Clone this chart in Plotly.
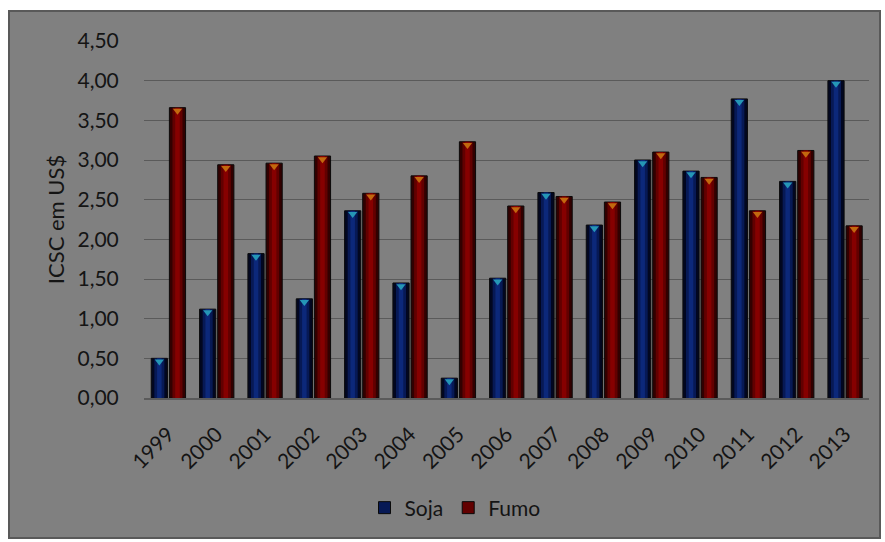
import plotly.graph_objects as go

# ICSC per year, in US$
years = ["1999", "2000", "2001", "2002", "2003", "2004", "2005", "2006",
         "2007", "2008", "2009", "2010", "2011", "2012", "2013"]
soja = [0.50, 1.12, 1.82, 1.25, 2.36, 1.45, 0.25, 1.51,
        2.59, 2.18, 3.00, 2.86, 3.77, 2.73, 4.00]
fumo = [3.66, 2.94, 2.96, 3.05, 2.58, 2.80, 3.23, 2.42,
        2.54, 2.47, 3.10, 2.78, 2.36, 3.12, 2.17]
y_ticks = [0.0, 0.5, 1.0, 1.5, 2.0, 2.5, 3.0, 3.5, 4.0, 4.5]

FONT = "Lato"
TEXT = "#141414"
BG = "#808080"
GRID = "#5a5a5a"
BAR_W = 0.335

# per series: left offset in category units, edge -> centre shading, bevel tip colour
series = [
    ("Soja", soja, -0.35, ["#020720", "#071955", "#0c287a"], "#2596b6"),
    ("Fumo", fumo, 0.025, ["#320000", "#620000", "#860000"], "#c2680e"),
]
shade_fracs = [1.0, 0.62, 0.28]

idx = list(range(len(years)))
fig = go.Figure()

for name, vals, off, shades, tip in series:
    for k, (frac, col) in enumerate(zip(shade_fracs, shades)):
        w = BAR_W * frac
        fig.add_trace(go.Bar(
            x=idx, y=vals, name=name,
            offset=off + (BAR_W - w) / 2, width=w,
            marker=dict(color=col,
                        line=dict(color="#0a0a0a", width=1 if k == 0 else 0)),
            showlegend=False, hoverinfo="skip" if k else None,
        ))
    # bevel highlight just under each bar top
    fig.add_trace(go.Scatter(
        x=[i + off + BAR_W / 2 for i in idx], y=[v - 0.04 for v in vals],
        mode="markers", showlegend=False, hoverinfo="skip",
        marker=dict(symbol="triangle-down", size=8, color=tip, line=dict(width=0)),
    ))
    # legend swatch
    fig.add_trace(go.Bar(x=[None], y=[None], name=name,
                         marker=dict(color=shades[1], line=dict(color="#0a0a0a", width=1))))

L, R, T, B = 144, 16, 41, 144
W, H = 885, 542
pw, ph = W - L - R, H - T - B


def px_x(p):
    return (p - L) / pw


def px_y(p):
    return (H - B - p) / ph


fig.add_shape(type="rect", xref="paper", yref="paper", layer="below",
              x0=px_x(9), x1=px_x(880), y0=px_y(538), y1=px_y(11),
              fillcolor=BG, line=dict(color="#595959", width=2))

fig.update_layout(
    width=W, height=H,
    margin=dict(l=L, r=R, t=T, b=B, autoexpand=False),
    paper_bgcolor="white", plot_bgcolor="rgba(0,0,0,0)",
    barmode="overlay",
    separators=", ",
    font=dict(family=FONT, size=21, color=TEXT),
    xaxis=dict(range=[-0.5, len(years) - 0.5], tickmode="array",
               tickvals=idx, ticktext=years, tickangle=-45,
               showgrid=False, zeroline=False, showline=True,
               linecolor=GRID, linewidth=1.5,
               ticks="outside", ticklen=14, tickcolor="rgba(0,0,0,0)",
               tickfont=dict(family=FONT, size=21, color=TEXT)),
    yaxis=dict(range=[0, 4.5], tickmode="array", tickvals=y_ticks,
               tickformat=".2f", showgrid=True, gridcolor=GRID, gridwidth=1.2,
               zeroline=False, showline=False, ticks="outside", ticklen=20,
               tickcolor="rgba(0,0,0,0)",
               tickfont=dict(family=FONT, size=21, color=TEXT),
               title=dict(text="ICSC em US$", standoff=6,
                          font=dict(family=FONT, size=22, color=TEXT))),
    legend=dict(orientation="h", x=px_x(455), y=px_y(508),
                xanchor="center", yanchor="middle",
                bgcolor="rgba(0,0,0,0)", font=dict(size=21, color=TEXT),
                itemwidth=30, traceorder="normal"),
)

fig.write_html("out.html")
